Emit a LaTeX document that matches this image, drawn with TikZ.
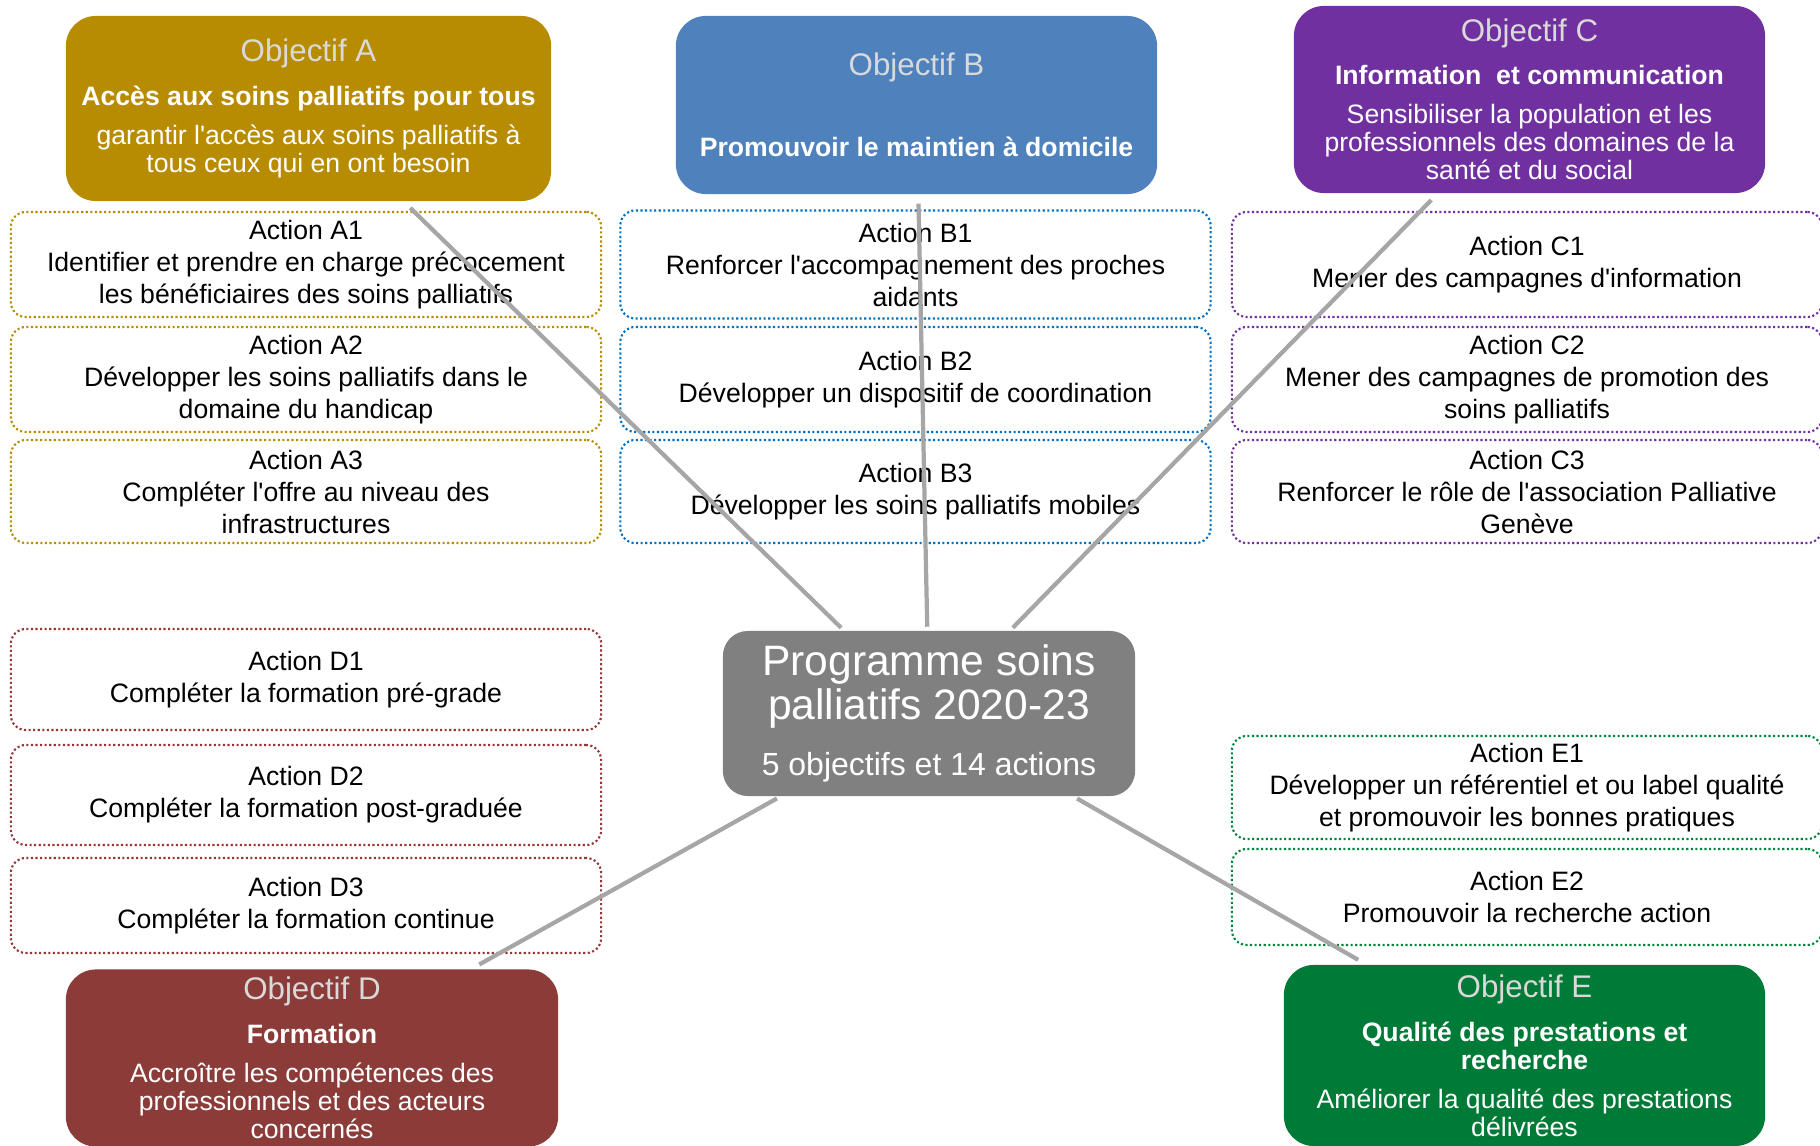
\documentclass[tikz,border=0pt]{standalone}
\usepackage{fontspec}
\setmainfont{Liberation Sans}[Ligatures=TeXOff]
\usepackage{xcolor}

\definecolor{colA}{HTML}{B88C00}
\definecolor{colB}{HTML}{4F81BD}
\definecolor{lineB}{HTML}{0070C0}
\definecolor{colC}{HTML}{7030A0}
\definecolor{colD}{HTML}{8B3B38}
\definecolor{lineD}{HTML}{943634}
\definecolor{colE}{HTML}{007A37}
\definecolor{lineE}{HTML}{00843C}
\definecolor{ctrgray}{HTML}{808080}
\definecolor{linkgray}{HTML}{A6A6A6}
\definecolor{titlegray}{HTML}{D9D9D9}

\newcommand{\objtitle}[1]{{\fontsize{8.9}{8.9}\selectfont\color{titlegray}#1}}

\begin{document}
\begin{tikzpicture}[x=0.01cm, y=-0.01cm,
	action/.style={draw=#1, line width=0.6pt, dash pattern=on 0.6pt off 0.7pt,
		rounded corners=0.15cm, minimum width=5.9cm, inner sep=0pt, align=center,
		font=\fontsize{7.57}{9.1}\selectfont},
	goal/.style={fill=#1, rounded corners=0.3cm, inner sep=0pt, align=center,
		text=white, font=\fontsize{7.57}{7.97}\selectfont},
	link/.style={draw=linkgray, line width=1.2pt, shorten <=1pt, shorten >=2.5pt}]
		\newcommand{\xa}{306}
		\newcommand{\xb}{915.5}
		\newcommand{\xc}{1527}
		\newcommand{\ya}{264.5}
		\newcommand{\yb}{379.5}
		\newcommand{\yc}{491.5}
		
		\useasboundingbox (0,0) rectangle (1820,1146);
		
		\node[action=colA, minimum height=1.05cm] (a1) at (\xa, \ya) {Action A1\\Identifier et prendre en charge précocement\\les bénéficiaires des soins palliatifs};
		\node[action=colA, minimum height=1.05cm] (a2) at (\xa, \yb) {Action A2\\Développer les soins palliatifs dans le\\domaine du handicap};
		\node[action=colA, minimum height=1.03cm] (a3) at (\xa, \yc) {Action A3\\Compléter l'offre au niveau des\\infrastructures};
		
		\node[action=lineB, minimum height=1.08cm] (b1) at (\xb, \ya) {Action B1\\Renforcer l'accompagnement des proches\\aidants};
		\node[action=lineB, minimum height=1.05cm] (b2) at (\xb, \yb) {Action B2\\Développer un dispositif de coordination};
		\node[action=lineB, minimum height=1.03cm] (b3) at (\xb, \yc) {Action B3\\Développer les soins palliatifs mobiles};
		
		\node[action=colC, minimum height=1.05cm] (c1) at (\xc, \ya) {Action C1\\Mener des campagnes d'information};
		\node[action=colC, minimum height=1.05cm] (c2) at (\xc, \yb) {Action C2\\Mener des campagnes de promotion des\\soins palliatifs};
		\node[action=colC, minimum height=1.03cm] (c3) at (\xc, \yc) {Action C3\\Renforcer le rôle de l'association Palliative\\Genève};
		
		\node[action=lineD, minimum height=1.01cm] (d1) at (\xa, 679.5) {Action D1\\Compléter la formation pré-grade};
		\node[action=lineD, minimum height=1.00cm] (d2) at (\xa, 795) {Action D2\\Compléter la formation post-graduée};
		\node[action=lineD, minimum height=0.95cm] (d3) at (\xa, 905.5) {Action D3\\Compléter la formation continue};
		
		\node[action=lineE, minimum height=1.03cm] (e1) at (\xc, 787.5) {Action E1\\Développer un référentiel et ou label qualité\\et promouvoir les bonnes pratiques};
		\node[action=lineE, minimum height=0.96cm] (e2) at (\xc, 897) {Action E2\\Promouvoir la recherche action};
		
		% objectifs
		\node[goal=colA, minimum width=4.85cm, minimum height=1.85cm] (goalA) at (308.5, 108.5) {\objtitle{Objectif A}\\[4.5pt]\textbf{Accès aux soins palliatifs pour tous}\\[3.1pt]garantir l'accès aux soins palliatifs à\\tous ceux qui en ont besoin};
		\node[goal=colB, minimum width=4.81cm, minimum height=1.78cm] (goalB) at (916.5, 105) {\objtitle{Objectif B}\\[15pt]\textbf{Promouvoir le maintien à domicile}};
		\node[goal=colC, minimum width=4.71cm, minimum height=1.87cm] (goalC) at (1529.5, 99.5) {\objtitle{Objectif C}\\[4.3pt]\textbf{Information \ et communication}\\[3.1pt]Sensibiliser la population et les\\professionnels des domaines de la\\santé et du social};
		\node[goal=colD, minimum width=4.92cm, minimum height=1.77cm] (goalD) at (312, 1058) {\objtitle{Objectif D}\\[4.5pt]\textbf{Formation}\\[3.1pt]Accroître les compétences des\\professionnels et des acteurs\\concernés};
		\node[goal=colE, minimum width=4.81cm, minimum height=1.81cm] (goalE) at (1524.5, 1055.5) {\objtitle{Objectif E}\\[4.5pt]\textbf{Qualité des prestations et}\\\textbf{recherche}\\[3.1pt]Améliorer la qualité des prestations\\délivrées};
		
		\node[fill=ctrgray, rounded corners=0.25cm, minimum width=4.12cm, minimum height=1.65cm,
			inner sep=0pt, align=center, text=white, font=\fontsize{12.1}{12.3}\selectfont]
			(ctr) at (929, 713.5) {Programme soins\\palliatifs 2020-23\\[3.7pt]{\fontsize{9.1}{9.1}\selectfont 5 objectifs et 14 actions}};
		
		\draw[link] (ctr) -- (goalA);
		\draw[link] (ctr) -- (goalB);
		\draw[link] (ctr) -- (goalC);
		\draw[link] (ctr) -- (goalD);
		\draw[link] (ctr) -- (goalE);
	\end{tikzpicture}
\end{document}
